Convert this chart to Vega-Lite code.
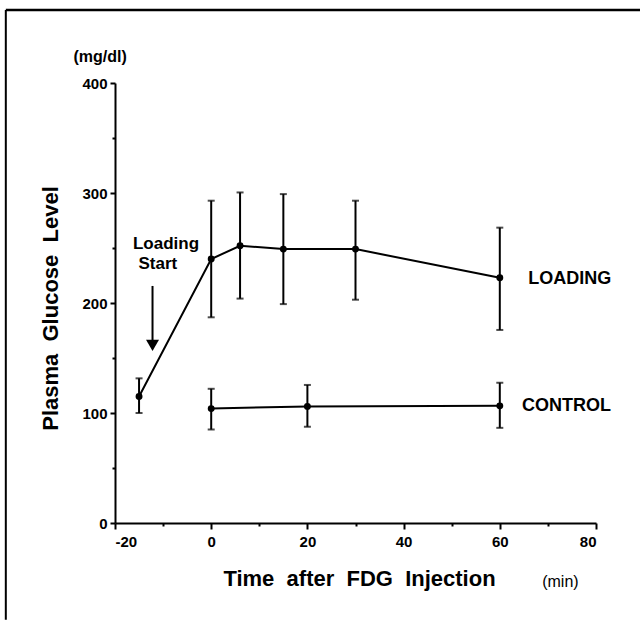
{
  "$schema": "https://vega.github.io/schema/vega-lite/v6.json",
  "width": 481,
  "height": 440,
  "autosize": {"type": "none"},
  "padding": {"left": 115, "top": 83, "right": 44, "bottom": 97},
  "background": "white",
  "config": {
    "view": {"stroke": null},
    "font": "Liberation Sans",
    "axis": {
      "grid": false,
      "domainColor": "black",
      "domainWidth": 2,
      "tickColor": "black",
      "tickWidth": 2,
      "labelFont": "Liberation Sans",
      "labelFontWeight": "bold",
      "labelFontSize": 15,
      "labelColor": "black",
      "titleFont": "Liberation Sans",
      "titleFontWeight": "bold",
      "titleFontSize": 22,
      "titleColor": "black"
    }
  },
  "datasets": {
    "glucose": [
      {"series": "LOADING", "time": -15, "glucose": 115, "lo": 100, "hi": 131.5},
      {"series": "LOADING", "time": 0, "glucose": 240, "lo": 187, "hi": 293},
      {"series": "LOADING", "time": 6, "glucose": 252, "lo": 204, "hi": 300.5},
      {"series": "LOADING", "time": 15, "glucose": 249, "lo": 199, "hi": 299},
      {"series": "LOADING", "time": 30, "glucose": 249, "lo": 203, "hi": 293},
      {"series": "LOADING", "time": 60, "glucose": 223, "lo": 175.5, "hi": 268.5},
      {"series": "CONTROL", "time": 0, "glucose": 104, "lo": 85, "hi": 122},
      {"series": "CONTROL", "time": 20, "glucose": 106, "lo": 87.5, "hi": 125.5},
      {"series": "CONTROL", "time": 60, "glucose": 106.5, "lo": 86.5, "hi": 127.5}
    ],
    "labels": [
      {"text": "LOADING", "time": 65.9, "glucose": 221.5},
      {"text": "CONTROL", "time": 64.6, "glucose": 106.4}
    ],
    "notes": [
      {"text": "Loading", "time": -9.4, "glucose": 254},
      {"text": "Start", "time": -11.1, "glucose": 235.5}
    ]
  },
  "layer": [
    {
      "data": {"name": "glucose"},
      "mark": {"type": "rule", "color": "black", "strokeWidth": 2},
      "encoding": {
        "x": {
          "field": "time", "type": "quantitative",
          "scale": {"domain": [-20, 80], "nice": false, "zero": false},
          "axis": {
            "title": "Time\u00a0 after\u00a0 FDG\u00a0 Injection",
            "values": [-20, -10, 0, 10, 20, 30, 40, 50, 60, 70, 80],
            "labelExpr": "datum.value % 20 === 0 ? '' + datum.value : ''",
            "tickSize": {"condition": {"test": "datum.value % 20 === 0", "value": 6}, "value": 3},
            "labelPadding": 5,
            "titleX": 244,
            "titleY": 55,
            "titleAlign": "center",
            "titleBaseline": "middle"
          }
        },
        "y": {
          "field": "lo", "type": "quantitative",
          "scale": {"domain": [0, 400], "nice": false},
          "axis": {
            "title": "Plasma\u00a0 Glucose\u00a0 Level",
            "values": [0, 50, 100, 150, 200, 250, 300, 350, 400],
            "labelExpr": "datum.value % 100 === 0 ? '' + datum.value : ''",
            "tickSize": {"condition": {"test": "datum.value % 100 === 0", "value": 5}, "value": 3},
            "labelPadding": 3,
            "titleX": -65,
            "titleY": 225,
            "titleAngle": 270,
            "titleAlign": "center",
            "titleBaseline": "middle"
          }
        },
        "y2": {"field": "hi"}
      }
    },
    {
      "data": {"name": "glucose"},
      "mark": {"type": "tick", "orient": "horizontal", "color": "black", "size": 7, "thickness": 2},
      "encoding": {
        "x": {"field": "time", "type": "quantitative"},
        "y": {"field": "lo", "type": "quantitative"}
      }
    },
    {
      "data": {"name": "glucose"},
      "mark": {"type": "tick", "orient": "horizontal", "color": "black", "size": 7, "thickness": 2},
      "encoding": {
        "x": {"field": "time", "type": "quantitative"},
        "y": {"field": "hi", "type": "quantitative"}
      }
    },
    {
      "data": {"name": "glucose"},
      "mark": {"type": "line", "color": "black", "strokeWidth": 2},
      "encoding": {
        "x": {"field": "time", "type": "quantitative"},
        "y": {"field": "glucose", "type": "quantitative"},
        "detail": {"field": "series"}
      }
    },
    {
      "data": {"name": "glucose"},
      "mark": {"type": "point", "shape": "circle", "filled": true, "color": "black", "size": 48, "opacity": 1},
      "encoding": {
        "x": {"field": "time", "type": "quantitative"},
        "y": {"field": "glucose", "type": "quantitative"}
      }
    },
    {
      "data": {"name": "labels"},
      "mark": {"type": "text", "align": "left", "baseline": "middle", "font": "Liberation Sans", "fontWeight": "bold", "fontSize": 18, "color": "black"},
      "encoding": {
        "x": {"field": "time", "type": "quantitative"},
        "y": {"field": "glucose", "type": "quantitative"},
        "text": {"field": "text"}
      }
    },
    {
      "data": {"name": "notes"},
      "mark": {"type": "text", "align": "center", "baseline": "middle", "font": "Liberation Sans", "fontWeight": "bold", "fontSize": 17, "color": "black"},
      "encoding": {
        "x": {"field": "time", "type": "quantitative"},
        "y": {"field": "glucose", "type": "quantitative"},
        "text": {"field": "text"}
      }
    },
    {
      "data": {"values": [{}]},
      "mark": {"type": "rule", "color": "black", "strokeWidth": 2},
      "encoding": {
        "x": {"datum": -12.2, "type": "quantitative"},
        "y": {"datum": 215.5, "type": "quantitative"},
        "y2": {"datum": 164}
      }
    },
    {
      "data": {"values": [{}]},
      "mark": {"type": "point", "shape": "triangle-down", "filled": true, "color": "black", "size": 169, "opacity": 1},
      "encoding": {
        "x": {"datum": -12.2, "type": "quantitative"},
        "y": {"datum": 161.4, "type": "quantitative"}
      }
    },
    {
      "data": {"values": [{}]},
      "mark": {"type": "text", "text": "(mg/dl)", "align": "center", "baseline": "middle", "font": "Liberation Sans", "fontSize": 16, "fontWeight": 600, "color": "black"},
      "encoding": {
        "x": {"datum": -23.1, "type": "quantitative"},
        "y": {"datum": 423.6, "type": "quantitative"}
      }
    },
    {
      "data": {"values": [{}]},
      "mark": {"type": "text", "text": "(min)", "align": "center", "baseline": "middle", "font": "Liberation Sans", "fontSize": 16, "color": "black"},
      "encoding": {
        "x": {"datum": 72.6, "type": "quantitative"},
        "y": {"datum": -53.6, "type": "quantitative"}
      }
    },
    {
      "data": {"values": [{}]},
      "mark": {"type": "rule", "color": "black", "strokeWidth": 2.5},
      "encoding": {
        "x": {"datum": -42.7, "type": "quantitative"},
        "x2": {"datum": 89.2},
        "y": {"datum": 466.4, "type": "quantitative"}
      }
    },
    {
      "data": {"values": [{}]},
      "mark": {"type": "rule", "color": "black", "strokeWidth": 2},
      "encoding": {
        "x": {"datum": -42.7, "type": "quantitative"},
        "y": {"datum": 466.4, "type": "quantitative"},
        "y2": {"datum": -88}
      }
    }
  ]
}
